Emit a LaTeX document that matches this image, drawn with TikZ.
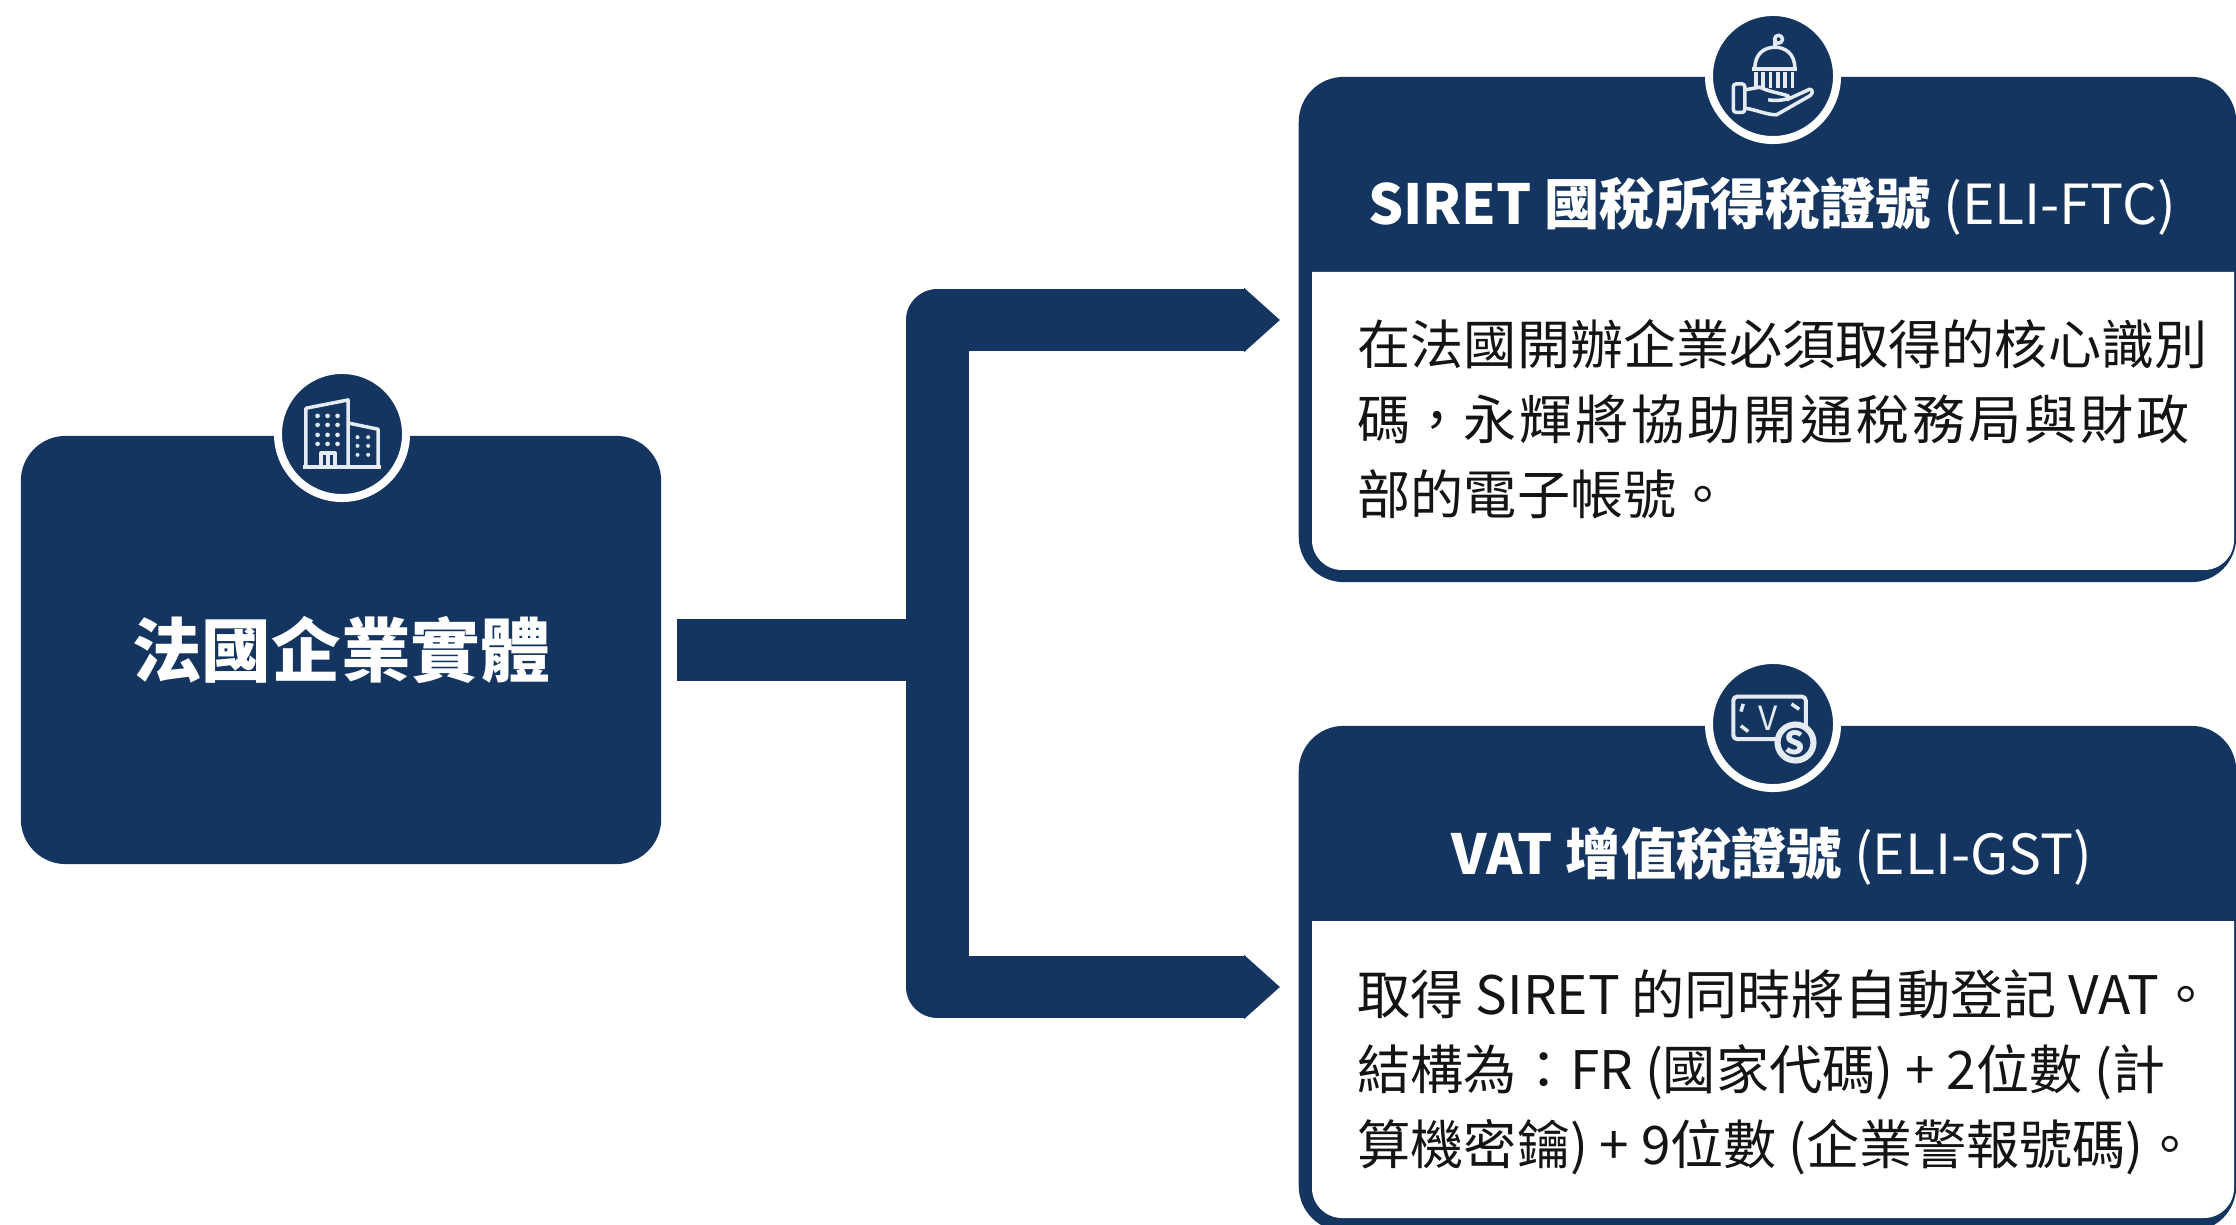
\documentclass[tikz,border=0pt]{standalone}
\usepackage{fontspec}
\setmainfont{Noto Sans CJK TC}
\usetikzlibrary{arrows.meta}
\definecolor{navy}{HTML}{14355F}
\definecolor{iconline}{HTML}{E4EBF3}
\tikzset{
    entitybox/.style={fill=navy,rounded corners=.45cm,minimum width=6.4cm,minimum height=4.28cm,
        text=white,font=\fontsize{19.8}{24}\selectfont\bfseries},
    cardbox/.style={fill=navy,rounded corners=.45cm,minimum width=9.37cm,minimum height=5.05cm},
    badge/.style={circle,fill=navy,draw=white,line width=.08cm,minimum size=1.28cm,inner sep=0pt},
    cardtitle/.style={text=white,inner sep=0pt,font=\fontsize{15.7}{18}\selectfont},
    cardtext/.style={anchor=west,align=left,inner sep=0pt,text=black!92,
        font=\fontsize{15.1}{21.3}\selectfont},
    trunk/.style={navy,line width=.62cm,line join=round},
    branch/.style={trunk,-{Triangle[width=.62cm,length=.36cm]},shorten >=.18cm},
    icon/.style={iconline,line width=.035cm,line join=round},
    iconletter/.style={text=iconline,inner sep=0pt},
    iconscale/.style={x=.003333cm,y=-.003333cm}
}
\begin{document}
\begin{tikzpicture}[x=.01cm,y=-.01cm]
    \useasboundingbox (0,0) rectangle (2236,1225);
    \node[entitybox] (entity) at (341,650) {法國企業實體};
    \node[cardbox] (siret) at (1767.5,329.5) {};
    \node[cardbox] (vat) at (1767.5,978.5) {};

    % white panels, square at the top
    \fill[white] (1312,272) -- (2234,272) [rounded corners=.3cm] -- (2234,570) -- (1312,570) [sharp corners] -- cycle;
    \fill[white] (1312,921) -- (2234,921) [rounded corners=.3cm] -- (2234,1218) -- (1312,1218) [sharp corners] -- cycle;

    \node[cardtitle] (siretname) at (1772,206) {\bfseries SIRET 國稅所得稅證號\mdseries\ (ELI-FTC)};
    \node[cardtitle] (vatname) at (1772,856) {\bfseries VAT 增值稅證號\mdseries\ (ELI-GST)};
    \node[cardtext] (sirettext) at (1357,419) {在法國開辦企業必須取得的核心識別\\碼，{\addfontfeature{LetterSpace=5.5}永輝將協助開通稅務局與財政}\\部的電子帳號。};
    \node[cardtext] (vattext) at (1357,1072) {取得 SIRET 的同時將自動登記 VAT。\\結構為：FR (國家代碼) + 2位數 (計\\算機密鑰) + 9位數 (企業警報號碼)。};

    \coordinate (hub) at (937.5,650);
    \coordinate (siretin) at (siret.west |- 0,320);
    \coordinate (vatin) at (vat.west |- 0,987);
    \draw[trunk,shorten <=.16cm] (entity) ++(320,0) -- (hub);
    \draw[branch] (hub) |- (siretin);
    \draw[branch] (hub) |- (vatin);

    \node[badge] (entitybadge) at (342,434) {};
    \node[badge] (siretbadge) at (1773,76) {};
    \node[badge] (vatbadge) at (1773,724) {};

    % buildings
    \begin{scope}[shift={(261,360)},iconscale]
        \draw[icon] (125,322) -- (360,322);
        \draw[icon] (135,322) -- (135,145) -- (262,120) -- (262,322);
        \draw[icon] (265,190) -- (352,208) -- (352,322);
        \draw[icon] (180,322) -- (180,280) -- (222,280) -- (222,322);
        \draw[icon] (201,280) -- (201,322);
        \foreach \x in {170,200,230}
            \foreach \y in {168,195,225,252}
                \fill[iconline] (\x,\y) circle (7);
        \foreach \x in {290,322}
            \foreach \y in {232,258,285}
                \fill[iconline] (\x,\y) circle (6);
    \end{scope}

    % dome over a hand
    \begin{scope}[shift={(1680,0)},iconscale]
        \draw[icon] (296,118) circle (12);
        \draw[icon] (285,118) -- (285,142);
        \draw[icon] (225,205) .. controls (225,160) and (255,142) .. (285,142) .. controls (315,142) and (345,160) .. (345,205);
        \draw[icon] (215,208) -- (350,208);
        \foreach \x in {228,250,272,294,316,338}
            \draw[icon] (\x,216) -- (\x,264);
        \draw[icon,rounded corners=.03cm] (160,252) rectangle (195,338);
        \draw[icon] (195,270) -- (240,262) .. controls (265,275) and (300,280) .. (325,288) .. controls (335,298) and (300,305) .. (265,300);
        \draw[icon] (320,300) -- (390,268) .. controls (400,270) and (400,280) .. (390,288) -- (290,345) .. controls (260,345) and (230,330) .. (195,325);
    \end{scope}

    % banknote and coin
    \begin{scope}[shift={(1680,650)},iconscale]
        \draw[icon,line width=.04cm,rounded corners=.04cm] (160,140) rectangle (378,268);
        \draw[icon] (190,162) -- (183,185);
        \draw[icon] (335,162) -- (358,178);
        \draw[icon] (183,228) -- (205,245);
        \node[iconletter,font=\fontsize{9.5}{10}\selectfont] (noteletter) at (265,205) {V};
        \draw[icon,fill=navy] (347,278) circle (58);
        \draw[icon] (347,278) circle (50);
        \node[iconletter,font=\fontsize{9}{10}\selectfont\bfseries] (coinletter) at (345,278) {S};
    \end{scope}
\end{tikzpicture}
\end{document}
